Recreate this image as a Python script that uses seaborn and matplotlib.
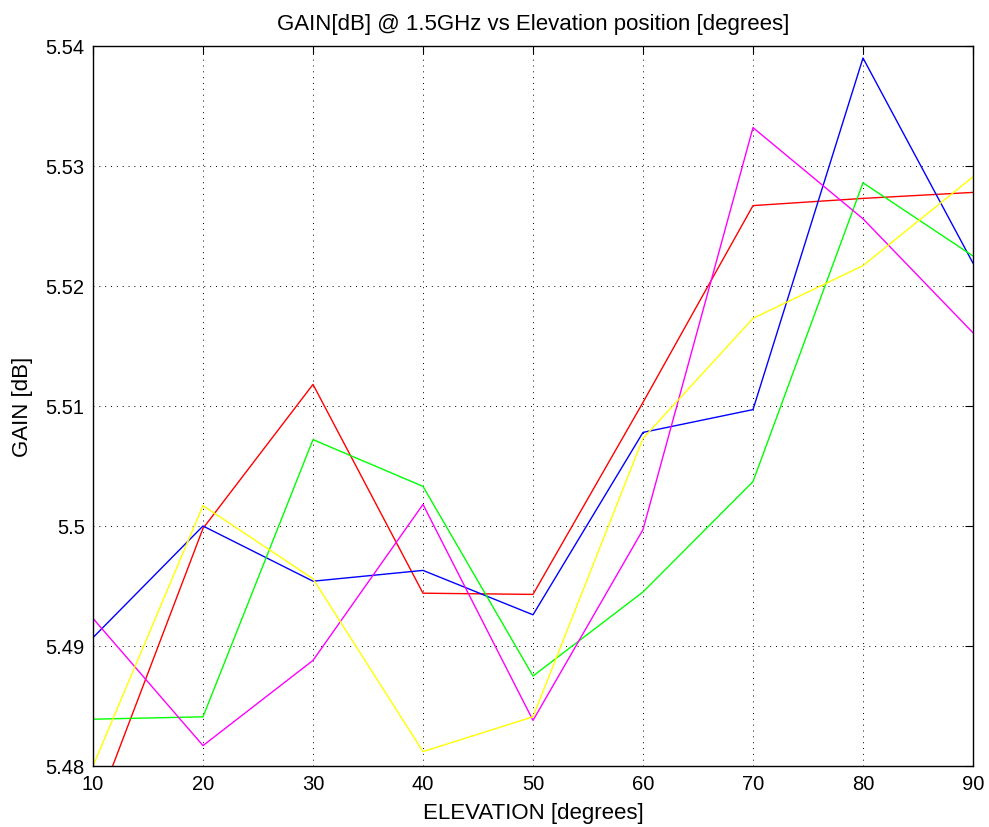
import matplotlib
matplotlib.use("Agg")
import matplotlib.pyplot as plt
from matplotlib.ticker import FuncFormatter
import seaborn as sns
import pandas as pd

elevation = [10, 20, 30, 40, 50, 60, 70, 80, 90]

gain_red = [5.4757, 5.4998, 5.5118, 5.4944, 5.4943, 5.5103, 5.5267, 5.5273, 5.5278]
gain_blue = [5.4907, 5.5000, 5.4954, 5.4963, 5.4926, 5.5078, 5.5097, 5.5390, 5.5219]
gain_green = [5.4839, 5.4841, 5.5072, 5.5033, 5.4875, 5.4945, 5.5037, 5.5286, 5.5225]
gain_magenta = [5.4923, 5.4817, 5.4888, 5.5018, 5.4838, 5.4997, 5.5332, 5.5256, 5.5161]
gain_yellow = [5.4800, 5.5017, 5.4956, 5.4812, 5.4841, 5.5073, 5.5173, 5.5217, 5.5291]

series = {
    "red": gain_red,
    "blue": gain_blue,
    "lime": gain_green,
    "magenta": gain_magenta,
    "yellow": gain_yellow,
}

df = pd.DataFrame(
    [(e, g, name) for name, vals in series.items() for e, g in zip(elevation, vals)],
    columns=["elevation", "gain", "trace"],
)

sns.set_style("white")
plt.rcParams["font.family"] = ["Liberation Sans", "DejaVu Sans"]
plt.rcParams["text.color"] = "black"
plt.rcParams["axes.labelcolor"] = "black"

fig = plt.figure(figsize=(9.89, 8.28), dpi=100)
ax = fig.add_axes([93 / 989, 61 / 828, 880 / 989, 720 / 828])

sns.lineplot(
    data=df, x="elevation", y="gain", hue="trace",
    palette={k: k for k in series}, hue_order=list(series),
    linewidth=1.0, legend=False, ax=ax,
)

ax.set_xlim(10, 90)
ax.set_ylim(5.48, 5.54)
ax.set_xticks(elevation)
ax.set_yticks([5.48, 5.49, 5.50, 5.51, 5.52, 5.53, 5.54])
ax.yaxis.set_major_formatter(FuncFormatter(lambda v, p: f"{v:g}"))

ax.grid(True, color="black", linestyle=(0, (1, 5)), linewidth=0.7)
ax.tick_params(direction="in", length=6, width=0.8, top=True, right=True,
               labelsize=14.5, colors="black")
ax.tick_params(axis="x", pad=6)
ax.tick_params(axis="y", pad=6)
for s in ax.spines.values():
    s.set_visible(True)
    s.set_color("black")
    s.set_linewidth(1.0)

ax.set_xlabel("ELEVATION [degrees]", fontsize=16, labelpad=6, color="black")
ax.set_ylabel("GAIN [dB]", fontsize=16, labelpad=9, color="black")
ax.set_title("GAIN[dB] @ 1.5GHz vs Elevation position [degrees]", fontsize=16,
             pad=12, color="black")

fig.savefig("out.png", dpi=100)
